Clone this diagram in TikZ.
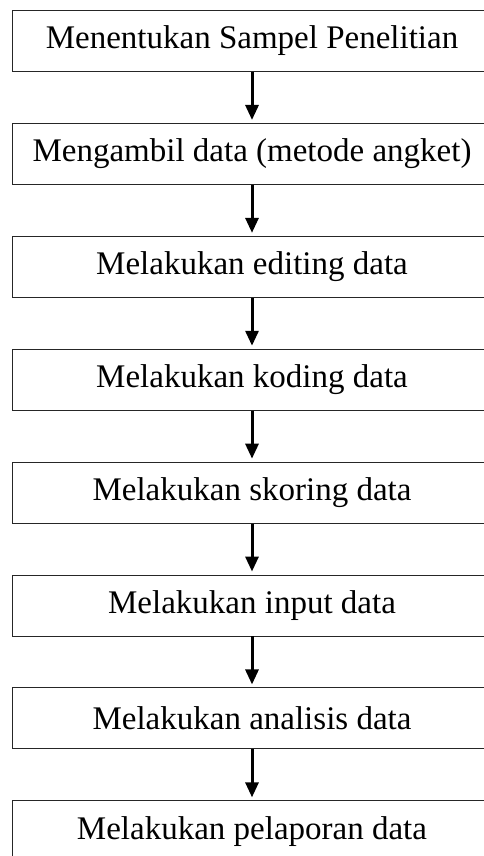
\documentclass[tikz,border=0pt]{standalone}
\usepackage{fontspec}
\setmainfont{Liberation Serif}
\usetikzlibrary{positioning,arrows.meta}
\tikzset{%
  stepbox/.style={draw=black!85,line width=0.9pt,minimum width=480pt,minimum height=61pt,inner sep=0pt,font=\fontsize{33}{40}\selectfont},
  flow/.style={draw=black,line width=3pt,-{Triangle[width=13pt,length=15pt]},shorten >=3pt}
}
\begin{document}
\begin{tikzpicture}[x=1pt,y=1pt,node distance=51pt]
    \useasboundingbox (0,0) rectangle (484,-856);
    \clip (0,0) rectangle (484,-856);
    \node (s1)[stepbox] at (252,-41) {Menentukan Sampel Penelitian};
    \node (s2)[stepbox,below=of s1] {Mengambil data (metode angket)};
    \node (s3)[stepbox,below=of s2] {Melakukan editing data};
    \node (s4)[stepbox,below=of s3] {Melakukan koding data};
    \node (s5)[stepbox,below=of s4] {Melakukan skoring data};
    \node (s6)[stepbox,below=of s5] {Melakukan input data};
    \node (s7)[stepbox,below=of s6] {Melakukan analisis data};
    \node (s8)[stepbox,below=of s7] {Melakukan pelaporan data};
    \foreach \a/\b in {s1/s2,s2/s3,s3/s4,s4/s5,s5/s6,s6/s7,s7/s8}
      \draw[flow] (\a) -- (\b);
  \end{tikzpicture}
\end{document}
